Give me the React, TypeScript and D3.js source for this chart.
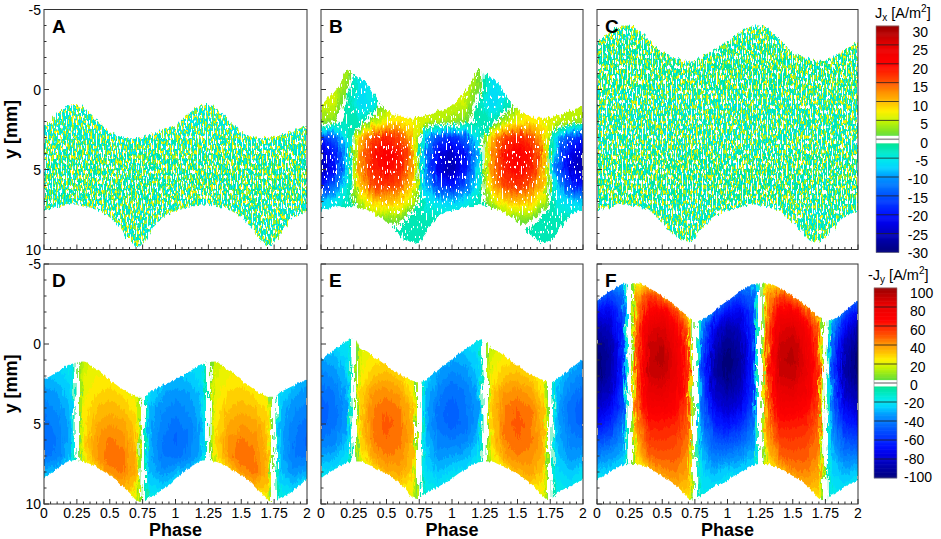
import { useMemo } from 'react';
import * as d3 from 'd3';

const W = 941;
const H = 539;
const FONT = '"Liberation Sans", Arial, Helvetica, sans-serif';

const PANEL_X: [number, number][] = [[44, 307], [321, 583], [597, 858]];
const PANEL_Y: [number, number][] = [[9.5, 249.5], [264, 504]];

const X_TICKS = [0, 0.25, 0.5, 0.75, 1, 1.25, 1.5, 1.75, 2];
const Y_TICKS = [-5, 0, 5, 10];
const JX_LABELS = [30, 25, 20, 15, 10, 5, 0, -5, -10, -15, -20, -25, -30];
const JY_LABELS = [100, 80, 60, 40, 20, 0, -20, -40, -60, -80, -100];

// Tecplot-like jet map, normalised to [-1, 1]
const CMAP_T = [-1, -0.833, -0.75, -0.667, -0.5, -0.333, -0.25, -0.167, -0.05, 0.05, 0.167, 0.25, 0.333, 0.42, 0.5, 0.6, 0.667, 0.833, 1];
const CMAP_C = ['#00007a', '#0000c0', '#0000e6', '#0010ff', '#0050ff', '#0098ff', '#00d4ff', '#00ece8', '#00e6a0',
  '#6ee030', '#c8f500', '#fff000', '#ffbb00', '#ff9000', '#ff5500', '#ff2000', '#ff0000', '#e60000', '#9a0000'];
const cmap = d3.scaleLinear<string>().domain(CMAP_T).range(CMAP_C).interpolate(d3.interpolateRgb).clamp(true);

// envelope of the measured region, one period, every 0.05 phase
const EDGE_PHASE = [0, 0.05, 0.1, 0.15, 0.2, 0.25, 0.3, 0.35, 0.4, 0.45, 0.5, 0.55, 0.6, 0.65, 0.7, 0.75, 0.8, 0.85, 0.9, 0.95, 1];
const A_TOP = [2.3, 1.9, 1.5, 1.2, 1.0, 0.95, 1.1, 1.45, 1.9, 2.3, 2.65, 2.85, 3.0, 3.05, 3.0, 2.95, 2.85, 2.7, 2.55, 2.4, 2.3];
const A_BOT = [7.6, 7.45, 7.35, 7.25, 7.2, 7.2, 7.25, 7.35, 7.5, 7.7, 8.0, 8.4, 8.9, 9.4, 9.8, 9.6, 9.0, 8.4, 8.0, 7.75, 7.6];
const B_TOP = [1.0, 0.55, 0.1, -0.45, -1.25, -1.0, -0.7, -0.4, 0.2, 0.8, 1.25, 1.5, 1.65, 1.75, 1.75, 1.7, 1.6, 1.5, 1.35, 1.2, 1.0];
const B_BOT = [7.6, 7.45, 7.35, 7.3, 7.3, 7.35, 7.4, 7.5, 7.7, 8.0, 8.3, 8.7, 9.1, 9.4, 9.6, 9.5, 9.0, 8.4, 7.9, 7.65, 7.6];
const C_TOP = [-3.0, -3.3, -3.6, -3.85, -4.0, -4.0, -3.85, -3.5, -3.1, -2.7, -2.35, -2.1, -1.95, -1.85, -1.8, -1.85, -2.0, -2.25, -2.5, -2.75, -3.0];
const C_BOT = [7.6, 7.45, 7.35, 7.25, 7.2, 7.2, 7.25, 7.4, 7.6, 7.9, 8.3, 8.75, 9.15, 9.45, 9.5, 9.3, 8.8, 8.3, 7.95, 7.75, 7.6];
const D_TOP = [2.2, 2.0, 1.75, 1.5, 1.25, 1.15, 1.1, 1.3, 1.6, 1.9, 2.25, 2.55, 2.85, 3.1, 3.3, 3.3, 3.0, 2.8, 2.6, 2.4, 2.2];
const D_BOT = [8.4, 8.1, 7.8, 7.5, 7.3, 7.25, 7.35, 7.5, 7.7, 7.95, 8.2, 8.5, 8.9, 9.3, 9.75, 9.9, 9.6, 9.4, 9.1, 8.8, 8.4];
const E_TOP = [0.95, 0.65, 0.35, 0.05, -0.25, -0.35, 0.3, 0.45, 0.75, 1.05, 1.35, 1.65, 1.9, 2.1, 2.3, 2.4, 2.2, 1.9, 1.6, 1.25, 0.95];
const E_BOT = [8.4, 8.1, 7.85, 7.6, 7.4, 7.35, 7.35, 7.5, 7.7, 7.9, 8.1, 8.4, 8.7, 9.1, 9.6, 9.7, 9.35, 9.1, 8.9, 8.65, 8.4];
const F_TOP = [-2.7, -3.0, -3.3, -3.55, -3.75, -3.8, -3.8, -3.7, -3.5, -3.25, -3.0, -2.7, -2.4, -2.05, -1.7, -1.45, -1.5, -1.75, -2.05, -2.4, -2.7];
const F_BOT = [8.5, 8.25, 8.0, 7.75, 7.55, 7.5, 7.5, 7.6, 7.8, 8.0, 8.25, 8.5, 8.8, 9.2, 9.65, 9.8, 9.45, 9.2, 8.9, 8.7, 8.5];

const A_ROWS = [-5, -4, -3, -2, -1, 0, 1, 2, 3, 4, 5, 6, 7, 8, 9, 10];
const A_COLS = [0, 1];
const A_GRID = [
  [-3, -3], [-3, -3], [-3, -3], [-3, -3], [-3, -3], [-3, -3], [-3, -3], [-3.5, -3.5],
  [-3, -3], [-2, -2], [-1.5, -1.5], [-1.5, -1.5], [-2, -2], [-2.5, -2.5], [-3, -3], [-3, -3],
];

const B_ROWS = [-3, -2, -1, 0, 1, 2, 3, 4, 5, 6, 7, 8, 9, 10];
const B_COLS = [0, 0.1, 0.2, 0.3, 0.4, 0.5, 0.6, 0.7, 0.8, 0.9, 1];
const B_GRID = [
  [4, 4, 3, -5, -5, 4, 5, 5, 5, 4, 4],
  [4, 4, 3, -5, -5, 4, 5, 5, 5, 4, 4],
  [4, 4, 3, -6, -5, 4, 5, 5, 5, 4, 4],
  [4, 5, 2, -7, -5, 4, 5, 5, 5, 4, 4],
  [5, 5, -2, -7, -5, 3, 6, 6, 5, 5, 5],
  [3, 2, -3, -3, 4, 7, 8, 7, 5, 4, 3],
  [-18, -14, -5, 10, 16, 18, 16, 10, -9, -16, -18],
  [-25, -20, -7, 12, 19, 21, 19, 12, -12, -22, -25],
  [-26, -20, -7, 12, 18, 20, 18, 11, -12, -23, -26],
  [-20, -14, -5, 10, 16, 17, 15, 9, -9, -17, -20],
  [-8, -6, -3, 5, 9, 10, 9, 5, -5, -7, -8],
  [-3, -3, -3, -3, 3, 3, 3, -3, -3, -3, -3],
  [-3, -3, -3, -3, -3, -3, -3, -3, -3, -3, -3],
  [-3, -3, -3, -3, -3, -3, -3, -3, -3, -3, -3],
];

const C_ROWS = [-5, -4, -3, -2, -1, 0, 1, 2, 3, 4, 5, 6, 7, 8, 9, 10];
const C_COLS = [0, 1];
const C_GRID = [
  [-3, -3], [-2.5, -2.5], [-2, -2], [-1.5, -1.5], [-1.5, -1.5], [-2, -2], [-2.5, -2.5], [-3, -3],
  [-2.5, -2.5], [-2, -2], [-1.5, -1.5], [-1.5, -1.5], [-2, -2], [-2.5, -2.5], [-3, -3], [-3, -3],
];

const JY_COLS = [0, 0.1, 0.2, 0.22, 0.235, 0.265, 0.28, 0.3, 0.4, 0.5, 0.6, 0.7, 0.72, 0.735, 0.765, 0.78, 0.8, 0.9, 1];

const D_ROWS = [0, 1, 2, 3, 4, 5, 6, 7, 8, 9, 10];
const D_GRID = [
  [-20, -18, -15, -10, 0, 0, 8, 12, 15, 15, 15, 12, 8, 0, 0, -10, -15, -18, -20],
  [-24, -22, -18, -12, 0, 0, 10, 16, 20, 20, 18, 14, 10, 0, 0, -12, -18, -22, -24],
  [-28, -26, -22, -14, 0, 0, 12, 20, 24, 24, 20, 16, 12, 0, 0, -14, -20, -25, -28],
  [-34, -32, -25, -16, 0, 0, 14, 22, 28, 30, 26, 20, 12, 0, 0, -15, -22, -30, -34],
  [-38, -35, -28, -17, 0, 0, 15, 24, 32, 34, 32, 26, 15, 0, 0, -17, -28, -35, -38],
  [-42, -38, -30, -18, 0, 0, 15, 26, 36, 40, 38, 30, 16, 0, 0, -18, -30, -38, -42],
  [-45, -40, -30, -18, 0, 0, 15, 28, 40, 45, 42, 32, 17, 0, 0, -18, -30, -40, -45],
  [-42, -38, -28, -16, 0, 0, 12, 24, 40, 48, 45, 34, 18, 0, 0, -18, -30, -40, -42],
  [-30, -28, -20, -12, 0, 0, 8, 15, 28, 42, 45, 35, 18, 0, 0, -16, -28, -35, -30],
  [-15, -15, -12, -8, 0, 0, 5, 8, 12, 22, 35, 30, 15, 0, 0, -14, -22, -25, -15],
  [-8, -8, -8, -6, 0, 0, 4, 5, 8, 10, 15, 18, 12, 0, 0, -10, -14, -12, -8],
];

const E_ROWS = [-1, 0, 1, 2, 3, 4, 5, 6, 7, 8, 9, 10];
const E_GRID = [
  [-18, -18, -15, -10, 0, 0, 8, 12, 15, 15, 15, 12, 8, 0, 0, -10, -12, -15, -18],
  [-24, -24, -20, -13, 0, 0, 12, 18, 22, 22, 18, 14, 10, 0, 0, -12, -16, -20, -24],
  [-32, -30, -24, -15, 0, 0, 13, 20, 26, 28, 24, 16, 11, 0, 0, -14, -20, -26, -32],
  [-38, -35, -27, -16, 0, 0, 14, 24, 32, 34, 30, 20, 12, 0, 0, -15, -24, -33, -38],
  [-43, -40, -30, -17, 0, 0, 15, 28, 40, 42, 38, 26, 14, 0, 0, -17, -28, -38, -43],
  [-47, -42, -32, -18, 0, 0, 16, 30, 44, 48, 44, 32, 16, 0, 0, -18, -30, -42, -47],
  [-46, -42, -32, -18, 0, 0, 16, 30, 45, 50, 46, 34, 17, 0, 0, -18, -30, -42, -46],
  [-40, -38, -28, -16, 0, 0, 14, 28, 44, 48, 46, 35, 18, 0, 0, -18, -28, -38, -40],
  [-32, -30, -22, -14, 0, 0, 12, 22, 38, 44, 42, 34, 18, 0, 0, -16, -26, -34, -32],
  [-22, -22, -16, -10, 0, 0, 6, 12, 25, 35, 38, 30, 16, 0, 0, -14, -22, -28, -22],
  [-12, -12, -10, -7, 0, 0, 4, 6, 10, 18, 28, 25, 14, 0, 0, -12, -18, -20, -12],
  [-6, -6, -6, -5, 0, 0, 4, 5, 6, 8, 14, 16, 10, 0, 0, -10, -12, -10, -6],
];

const F_ROWS = [-5, -4, -3, -2, -1, 0, 1, 2, 3, 4, 5, 6, 7, 8, 9, 10];
const F_GRID = [
  [-15, -15, -15, -10, 0, 0, 8, 10, 12, 10, 8, 6, 5, 0, 0, -6, -8, -10, -15],
  [-25, -30, -30, -15, 0, 0, 10, 22, 25, 15, 10, 8, 6, 0, 0, -8, -10, -15, -25],
  [-42, -55, -45, -20, 0, 0, 15, 38, 55, 45, 25, 15, 8, 0, 0, -10, -12, -25, -42],
  [-70, -72, -52, -22, 0, 0, 18, 42, 70, 72, 55, 30, 12, 0, 0, -12, -20, -50, -70],
  [-88, -82, -56, -24, 0, 0, 20, 45, 82, 85, 72, 46, 16, 0, 0, -16, -36, -72, -88],
  [-96, -88, -58, -25, 0, 0, 22, 48, 88, 92, 78, 52, 20, 0, 0, -20, -45, -82, -96],
  [-100, -90, -60, -26, 0, 0, 22, 50, 90, 95, 80, 55, 22, 0, 0, -22, -48, -88, -100],
  [-98, -88, -58, -25, 0, 0, 22, 50, 88, 90, 80, 56, 22, 0, 0, -22, -48, -88, -98],
  [-90, -82, -55, -24, 0, 0, 20, 48, 80, 82, 75, 55, 22, 0, 0, -22, -46, -82, -90],
  [-80, -72, -50, -22, 0, 0, 20, 45, 72, 72, 68, 52, 22, 0, 0, -20, -42, -72, -80],
  [-68, -60, -42, -20, 0, 0, 18, 40, 62, 62, 60, 48, 20, 0, 0, -18, -38, -62, -68],
  [-52, -48, -35, -18, 0, 0, 16, 35, 55, 56, 54, 45, 20, 0, 0, -18, -32, -50, -52],
  [-38, -35, -28, -15, 0, 0, 12, 28, 48, 50, 50, 42, 18, 0, 0, -16, -28, -40, -38],
  [-25, -24, -20, -12, 0, 0, 8, 15, 32, 42, 44, 38, 18, 0, 0, -14, -24, -30, -25],
  [-14, -14, -12, -8, 0, 0, 5, 8, 15, 25, 35, 32, 15, 0, 0, -12, -20, -22, -14],
  [-8, -8, -8, -6, 0, 0, 4, 5, 8, 12, 18, 22, 12, 0, 0, -10, -15, -12, -8],
];

type Kind = 'noisy' | 'blob' | 'smooth';
type PanelDef = {
  id: string; c: number; r: number;
  cols: number[]; rows: number[]; grid: number[][];
  top: number[]; bot: number[];
  vmax: number; step: number; white: number; kind: Kind; seed: number;
};

const PANELS: PanelDef[] = [
  { id: 'A', c: 0, r: 0, cols: A_COLS, rows: A_ROWS, grid: A_GRID, top: A_TOP, bot: A_BOT, vmax: 30, step: 1, white: 1, kind: 'noisy', seed: 11 },
  { id: 'B', c: 1, r: 0, cols: B_COLS, rows: B_ROWS, grid: B_GRID, top: B_TOP, bot: B_BOT, vmax: 30, step: 1, white: 1, kind: 'blob', seed: 12 },
  { id: 'C', c: 2, r: 0, cols: C_COLS, rows: C_ROWS, grid: C_GRID, top: C_TOP, bot: C_BOT, vmax: 30, step: 1, white: 1, kind: 'noisy', seed: 13 },
  { id: 'D', c: 0, r: 1, cols: JY_COLS, rows: D_ROWS, grid: D_GRID, top: D_TOP, bot: D_BOT, vmax: 100, step: 4, white: 3, kind: 'smooth', seed: 14 },
  { id: 'E', c: 1, r: 1, cols: JY_COLS, rows: E_ROWS, grid: E_GRID, top: E_TOP, bot: E_BOT, vmax: 100, step: 4, white: 3, kind: 'smooth', seed: 15 },
  { id: 'F', c: 2, r: 1, cols: JY_COLS, rows: F_ROWS, grid: F_GRID, top: F_TOP, bot: F_BOT, vmax: 100, step: 4, white: 3, kind: 'smooth', seed: 16 },
];

function bandColor(v: number, vmax: number, white: number) {
  if (Math.abs(v) < white) return '#ffffff';
  return cmap(v / vmax);
}

function contourLevels(vmax: number, step: number, white: number) {
  const neg = d3.range(-vmax + step, 0, step).filter((v) => v < -white);
  const pos = d3.range(step, vmax, step).filter((v) => v > white);
  return [-1e6, ...neg, -white, white, ...pos];
}

// two identical periods side by side
const twoPeriods = (ph: number[]) => [...ph, ...ph.slice(1).map((p) => p + 1)];
const twoRows = (v: number[]) => [...v, ...v.slice(1)];

function speck(r: number, g: number, b: number, ch: number, thr: number) {
  const k = 30;
  const a = [0, 0, 0, 0];
  a[ch] = k;
  return `0 0 0 0 ${r} 0 0 0 0 ${g} 0 0 0 0 ${b} ${a.join(' ')} ${-k * thr}`;
}

type Box = { x: number; y: number; w: number; h: number };

// streaky texture applied before clipping to the measured envelope
function StreakFilter({ p, b }: { p: PanelDef; b: Box }) {
  const scale = p.kind === 'smooth' ? 9 : p.kind === 'blob' ? 10 : 6;
  return (
    <filter id={`s${p.id}`} filterUnits="userSpaceOnUse" x={b.x - 10} y={b.y - 10} width={b.w + 20} height={b.h + 20}
      colorInterpolationFilters="sRGB">
      <feTurbulence type="fractalNoise" baseFrequency="0.7 0.05" numOctaves={2} seed={p.seed} result="warp" />
      <feDisplacementMap in="SourceGraphic" in2="warp" scale={scale} xChannelSelector="R" yChannelSelector="G" />
    </filter>
  );
}

// ragged edge + speckle noise applied after clipping
function EdgeFilter({ p, b }: { p: PanelDef; b: Box }) {
  const disp = p.kind === 'smooth' ? 4 : 7;
  return (
    <filter id={`f${p.id}`} filterUnits="userSpaceOnUse" x={b.x - 10} y={b.y - 10} width={b.w + 20} height={b.h + 20}
      colorInterpolationFilters="sRGB">
      <feTurbulence type="fractalNoise" baseFrequency="0.45 0.08" numOctaves={2} seed={p.seed + 40} result="warp" />
      <feDisplacementMap in="SourceGraphic" in2="warp" scale={disp} xChannelSelector="R" yChannelSelector="G" result="disp" />
      {p.kind === 'noisy' && (
        <>
          <feTurbulence type="fractalNoise" baseFrequency="0.8 0.2" numOctaves={1} seed={p.seed + 20} result="spk" />
          <feColorMatrix in="spk" type="matrix" values={speck(0, 0.91, 0.94, 2, 0.52)} result="sc" />
          <feColorMatrix in="spk" type="matrix" values={speck(0.62, 0.94, 0.12, 3, 0.555)} result="sg" />
          <feColorMatrix in="spk" type="matrix" values={speck(1, 0.95, 0, 1, 0.6)} result="sy" />
          <feColorMatrix in="spk" type="matrix" values={speck(1, 1, 1, 0, 0.57)} result="sw" />
          <feMerge result="mix">
            <feMergeNode in="disp" />
            <feMergeNode in="sc" />
            <feMergeNode in="sg" />
            <feMergeNode in="sy" />
            <feMergeNode in="sw" />
          </feMerge>
          <feComposite in="mix" in2="disp" operator="in" />
        </>
      )}
      {p.kind === 'blob' && (
        <>
          <feTurbulence type="fractalNoise" baseFrequency="0.8 0.2" numOctaves={1} seed={p.seed + 20} result="spk" />
          <feColorMatrix in="spk" type="matrix" values={speck(1, 1, 1, 0, 0.64)} result="sw" />
          <feMerge result="mix">
            <feMergeNode in="disp" />
            <feMergeNode in="sw" />
          </feMerge>
          <feComposite in="mix" in2="disp" operator="in" />
        </>
      )}
    </filter>
  );
}

function Panel({ p }: { p: PanelDef }) {
  const [x0, x1] = PANEL_X[p.c];
  const [y0, y1] = PANEL_Y[p.r];
  const xs = d3.scaleLinear().domain([0, 2]).range([x0, x1]);
  const ys = d3.scaleLinear().domain([-5, 10]).range([y0, y1]);
  const box = { x: x0, y: y0, w: x1 - x0, h: y1 - y0 };

  const { bands, envelope } = useMemo(() => {
    const colsFull = twoPeriods(p.cols);
    const flat = p.grid.flatMap((row) => twoRows(row));
    const colScale = d3.scaleLinear().domain(d3.range(colsFull.length)).range(colsFull);
    const rowScale = d3.scaleLinear().domain(d3.range(p.rows.length)).range(p.rows);
    const proj = d3.geoTransform({
      point(x: number, y: number) {
        this.stream.point(xs(colScale(x - 0.5)), ys(rowScale(y - 0.5)));
      },
    });
    const path = d3.geoPath(proj);
    const levels = contourLevels(p.vmax, p.step, p.white);
    const contours = d3.contours().size([colsFull.length, p.rows.length]).thresholds(levels)(flat);
    const bands = contours.map((c, i) => {
      const lo = levels[i];
      const hi = i + 1 < levels.length ? levels[i + 1] : p.vmax;
      const mid = lo === -1e6 ? -p.vmax : (lo + hi) / 2;
      return { d: path(c as any) || '', color: lo === -p.white ? '#ffffff' : bandColor(mid, p.vmax, p.white) };
    });

    const ph = twoPeriods(EDGE_PHASE);
    const top = twoRows(p.top);
    const bot = twoRows(p.bot);
    const envelope = d3.area<number>()
      .x((d) => xs(d))
      .y0((_, i) => ys(top[i]))
      .y1((_, i) => ys(bot[i]))
      .curve(d3.curveMonotoneX)(ph) || '';
    return { bands, envelope };
  }, [p]);

  const xMinor = xs.ticks(40);
  const yMinor = ys.ticks(15);
  const isMajorX = (v: number) => Math.abs(v * 4 - Math.round(v * 4)) < 1e-6;
  const isMajorY = (v: number) => Math.abs(v / 5 - Math.round(v / 5)) < 1e-6;

  return (
    <g>
      <defs>
        <clipPath id={`env${p.id}`}><path d={envelope} /></clipPath>
        <clipPath id={`box${p.id}`}><rect x={x0} y={y0} width={x1 - x0} height={y1 - y0} /></clipPath>
        <StreakFilter p={p} b={box} />
        <EdgeFilter p={p} b={box} />
      </defs>
      <g clipPath={`url(#box${p.id})`}>
        <g filter={`url(#f${p.id})`}>
          <g clipPath={`url(#env${p.id})`}>
            <g filter={`url(#s${p.id})`}>
              {bands.map((b, i) => (
                <path key={i} d={b.d} fill={b.color} />
              ))}
            </g>
          </g>
        </g>
      </g>
      <rect x={x0} y={y0} width={x1 - x0} height={y1 - y0} fill="none" stroke="#333" strokeWidth={1} />
      {xMinor.map((v) => (
        <line key={`x${v}`} x1={xs(v)} x2={xs(v)} y1={y1} y2={y1 - (isMajorX(v) ? 5 : 2.5)} stroke="#333" strokeWidth={1} />
      ))}
      {yMinor.map((v) => (
        <line key={`y${v}`} x1={x0} x2={x0 + (isMajorY(v) ? 5 : 2.5)} y1={ys(v)} y2={ys(v)} stroke="#333" strokeWidth={1} />
      ))}
      <text x={x0 + 8} y={y0 + 23} fontSize={19} fontWeight="bold" fontFamily={FONT}>{p.id}</text>
      {p.c === 0 &&
        Y_TICKS.map((v) => (
          <text key={`yl${v}`} x={41} y={ys(v) + 5} fontSize={14} textAnchor="end" fontFamily={FONT}>{v}</text>
        ))}
      {p.c === 0 && (
        <text transform={`translate(17,${(y0 + y1) / 2}) rotate(-90)`} fontSize={18} fontWeight="bold"
          textAnchor="middle" fontFamily={FONT}>y [mm]</text>
      )}
      {p.r === 1 &&
        X_TICKS.map((v) => (
          <text key={`xl${v}`} x={xs(v)} y={518} fontSize={14} textAnchor="middle" fontFamily={FONT}>{v}</text>
        ))}
      {p.r === 1 && (
        <text x={(x0 + x1) / 2} y={536} fontSize={18} fontWeight="bold" textAnchor="middle" fontFamily={FONT}>Phase</text>
      )}
    </g>
  );
}

function ColorBar({ x, y0, y1, vmax, white, labels, ly0, ly1, labelX, anchor }: {
  x: number; y0: number; y1: number; vmax: number; white: number; labels: number[];
  ly0: number; ly1: number; labelX: number; anchor: 'end' | 'start';
}) {
  const bw = 23;
  const s = d3.scaleLinear().domain([-vmax, vmax]).range([y1, y0]);
  const ls = d3.scaleLinear().domain([-vmax, vmax]).range([ly1, ly0]);
  const stepV = vmax / 120;
  const cells = d3.range(-vmax, vmax, stepV);
  return (
    <g>
      {cells.map((v) => (
        <rect key={v} x={x} y={s(v + stepV) - 0.3} width={bw} height={s(v) - s(v + stepV) + 0.6}
          fill={bandColor(v + stepV / 2, vmax, white)} />
      ))}
      {labels.filter((v) => v !== 0 && Math.abs(v) !== vmax).map((v) => (
        <line key={`l${v}`} x1={x} x2={x + bw} y1={s(v)} y2={s(v)} stroke="#222" strokeWidth={0.8} />
      ))}
      <line x1={x} x2={x + bw} y1={s(0)} y2={s(0)} stroke="#999" strokeWidth={1.6} />
      <rect x={x} y={y0} width={bw} height={y1 - y0} fill="none" stroke="#888" strokeWidth={0.6} />
      {labels.map((v) => (
        <text key={`t${v}`} x={anchor === 'start' && v < 0 ? labelX - 6 : labelX} y={ls(v) + 5} fontSize={14}
          textAnchor={anchor} fontFamily={FONT}>{v}</text>
      ))}
    </g>
  );
}

export default function App() {
  return (
    <svg width={W} height={H} style={{ position: 'absolute', left: 0, top: 0, background: '#fff' }}>
      {PANELS.map((p) => (
        <Panel key={p.id} p={p} />
      ))}
      <text x={875} y={18} fontSize={14.5} fontFamily={FONT}>
        J<tspan fontSize={10} dy={3}>x</tspan>
        <tspan dy={-3}>{' [A/m'}</tspan>
        <tspan fontSize={10} dy={-6}>2</tspan>
        <tspan dy={6}>]</tspan>
      </text>
      <ColorBar x={876} y0={26} y1={252.5} vmax={30} white={1} labels={JX_LABELS} ly0={32} ly1={253} labelX={928} anchor="end" />
      <text x={868} y={280} fontSize={14.5} fontFamily={FONT}>
        -J<tspan fontSize={10} dy={3}>y</tspan>
        <tspan dy={-3}>{' [A/m'}</tspan>
        <tspan fontSize={10} dy={-6}>2</tspan>
        <tspan dy={6}>]</tspan>
      </text>
      <ColorBar x={874} y0={288} y1={478} vmax={100} white={3} labels={JY_LABELS} ly0={293} ly1={477} labelX={910} anchor="start" />
    </svg>
  );
}
